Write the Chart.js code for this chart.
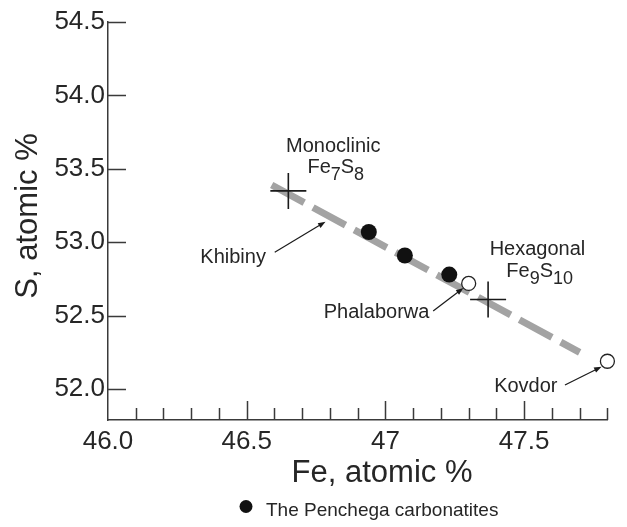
<!DOCTYPE html>
<html>
<head>
<meta charset="utf-8">
<script src="https://cdn.jsdelivr.net/npm/chart.js@4.4.0/dist/chart.umd.min.js"></script>
<style>
  html, body { margin: 0; padding: 0; background: #fff; }
  #wrap { width: 627px; height: 527px; }
</style>
</head>
<body>
<div id="wrap"><canvas id="feSChart" width="627" height="527"></canvas></div>
<script>
// Pyrrhotite compositions, Fe vs S (atomic %)
const penchegaFe = [46.94, 47.07, 47.23];
const penchegaS = [53.07, 52.91, 52.78];

const otherNames = ["Phalaborwa", "Kovdor"];
const otherFe = [47.30, 47.80];
const otherS = [52.72, 52.19];

// ideal Fe7S8 / Fe9S10 compositions
const idealFe = [46.65, 47.37];
const idealS = [53.35, 52.61];

// trend line ends
const trendFe = [46.59, 47.70];
const trendS = [53.39, 52.25];

const xTickValues = [46.0, 46.5, 47.0, 47.5];
const xTickLabels = ["46.0", "46.5", "47", "47.5"];
const yTickValues = [52.0, 52.5, 53.0, 53.5, 54.0, 54.5];
const yTickLabels = ["52.0", "52.5", "53.0", "53.5", "54.0", "54.5"];

// text notes and arrows, in data units
const notes = [
  { text: "Monoclinic", x: 46.812, y: 53.617 },
  { text: "Hexagonal", x: 47.548, y: 52.914 },
  { text: "Khibiny", x: 46.451, y: 52.861 },
  { text: "Phalaborwa", x: 46.968, y: 52.483 },
  { text: "Kovdor", x: 47.506, y: 51.983 }
];
const formulas = [
  { parts: [["Fe", 0], ["7", 1], ["S", 0], ["8", 1]], x: 46.821, y: 53.472 },
  { parts: [["Fe", 0], ["9", 1], ["S", 0], ["10", 1]], x: 47.556, y: 52.766 }
];
const arrows = [
  { from: [46.601, 52.932], to: [46.784, 53.140] },
  { from: [47.172, 52.532], to: [47.281, 52.689] },
  { from: [47.647, 52.028], to: [47.779, 52.153] }
];

const FONT = "'Liberation Sans', Arial, sans-serif";
const TEXT = "#262626";
const AXIS = "#3a3a3a";

function toPoints(xs, ys) {
  return xs.map((v, i) => ({ x: v, y: ys[i] }));
}

const overlay = {
  id: "overlay",
  afterDraw(chart) {
    const { ctx } = chart;
    const x = chart.scales.x, y = chart.scales.y;
    ctx.save();

    // inward tick marks
    ctx.strokeStyle = AXIS;
    ctx.lineWidth = 1.5;
    ctx.beginPath();
    for (let i = 1; i <= 18; i++) {
      const px = Math.round(x.getPixelForValue(46 + i * 0.1)) + 0.5;
      const len = i % 5 === 0 ? 19 : 12;
      ctx.moveTo(px, y.bottom);
      ctx.lineTo(px, y.bottom - len);
    }
    yTickValues.forEach(v => {
      const py = Math.round(y.getPixelForValue(v)) + 0.5;
      ctx.moveTo(x.left, py);
      ctx.lineTo(x.left + 18, py);
    });
    ctx.stroke();

    // axis titles
    ctx.fillStyle = TEXT;
    ctx.font = "31px " + FONT;
    ctx.textAlign = "center";
    ctx.textBaseline = "alphabetic";
    ctx.fillText("Fe, atomic %", 382, 482);
    ctx.save();
    ctx.translate(37, 216);
    ctx.rotate(-Math.PI / 2);
    ctx.fillText("S, atomic %", 0, 0);
    ctx.restore();

    // notes
    ctx.font = "20px " + FONT;
    notes.forEach(n => {
      ctx.fillText(n.text, x.getPixelForValue(n.x), y.getPixelForValue(n.y));
    });

    // chemical formulas with subscripts
    ctx.textAlign = "left";
    formulas.forEach(f => {
      let w = 0;
      f.parts.forEach(([t, sub]) => {
        ctx.font = (sub ? "18px " : "20px ") + FONT;
        w += ctx.measureText(t).width;
      });
      let cx = x.getPixelForValue(f.x) - w / 2;
      const base = y.getPixelForValue(f.y);
      f.parts.forEach(([t, sub]) => {
        ctx.font = (sub ? "18px " : "20px ") + FONT;
        ctx.fillText(t, cx, base + (sub ? 7 : 0));
        cx += ctx.measureText(t).width;
      });
    });

    // arrows
    ctx.strokeStyle = "#1a1a1a";
    ctx.fillStyle = "#1a1a1a";
    ctx.lineWidth = 1.2;
    arrows.forEach(a => {
      const x0 = x.getPixelForValue(a.from[0]), y0 = y.getPixelForValue(a.from[1]);
      const x1 = x.getPixelForValue(a.to[0]), y1 = y.getPixelForValue(a.to[1]);
      const ang = Math.atan2(y1 - y0, x1 - x0);
      ctx.beginPath();
      ctx.moveTo(x0, y0);
      ctx.lineTo(x1 - 5 * Math.cos(ang), y1 - 5 * Math.sin(ang));
      ctx.stroke();
      ctx.beginPath();
      ctx.moveTo(x1, y1);
      ctx.lineTo(x1 - 8 * Math.cos(ang - 0.35), y1 - 8 * Math.sin(ang - 0.35));
      ctx.lineTo(x1 - 8 * Math.cos(ang + 0.35), y1 - 8 * Math.sin(ang + 0.35));
      ctx.closePath();
      ctx.fill();
    });

    // legend
    ctx.fillStyle = "#111";
    ctx.beginPath();
    ctx.arc(246, 506.5, 6.5, 0, Math.PI * 2);
    ctx.fill();
    ctx.fillStyle = TEXT;
    ctx.font = "19px " + FONT;
    ctx.fillText("The Penchega carbonatites", 266, 516);

    ctx.restore();
  }
};

new Chart(document.getElementById("feSChart"), {
  type: "scatter",
  data: {
    datasets: [
      {
        label: "The Penchega carbonatites",
        data: toPoints(penchegaFe, penchegaS),
        pointStyle: "circle",
        pointRadius: 8,
        backgroundColor: "#111",
        borderColor: "#111",
        borderWidth: 0,
        order: 1
      },
      {
        label: "Other carbonatites",
        data: toPoints(otherFe, otherS),
        pointStyle: "circle",
        pointRadius: 7,
        backgroundColor: "#fff",
        borderColor: "#222",
        borderWidth: 1.3,
        order: 1
      },
      {
        label: "Ideal pyrrhotite",
        data: toPoints(idealFe, idealS),
        pointStyle: "cross",
        pointRadius: 18,
        borderColor: "#1a1a1a",
        borderWidth: 1.6,
        order: 2
      },
      {
        label: "Trend",
        data: toPoints(trendFe, trendS),
        showLine: true,
        pointRadius: 0,
        borderColor: "#a3a3a3",
        borderWidth: 7,
        borderDash: [37, 10],
        borderCapStyle: "butt",
        order: 3
      }
    ]
  },
  options: {
    responsive: false,
    animation: false,
    clip: false,
    layout: { padding: { top: 22, right: 9, left: 0, bottom: 0 } },
    plugins: {
      legend: { display: false },
      tooltip: { enabled: false }
    },
    scales: {
      x: {
        type: "linear",
        min: 46,
        max: 47.8,
        afterBuildTicks: s => { s.ticks = xTickValues.map(v => ({ value: v })); },
        afterFit: s => { s.height = 107; },
        ticks: {
          autoSkip: false,
          maxRotation: 0,
          padding: 6,
          color: TEXT,
          font: { family: FONT, size: 26 },
          callback: (v, i) => xTickLabels[i]
        },
        grid: { display: false, drawTicks: false },
        border: { display: true, color: AXIS, width: 1.5 }
      },
      y: {
        type: "linear",
        min: 51.79,
        max: 54.5,
        afterBuildTicks: s => { s.ticks = yTickValues.map(v => ({ value: v })); },
        afterFit: s => { s.width = 108; },
        ticks: {
          autoSkip: false,
          padding: 3,
          color: TEXT,
          font: { family: FONT, size: 26 },
          callback: (v, i) => yTickLabels[i]
        },
        grid: { display: false, drawTicks: false },
        border: { display: true, color: AXIS, width: 1.5 }
      }
    }
  },
  plugins: [overlay]
});
</script>
</body>
</html>
